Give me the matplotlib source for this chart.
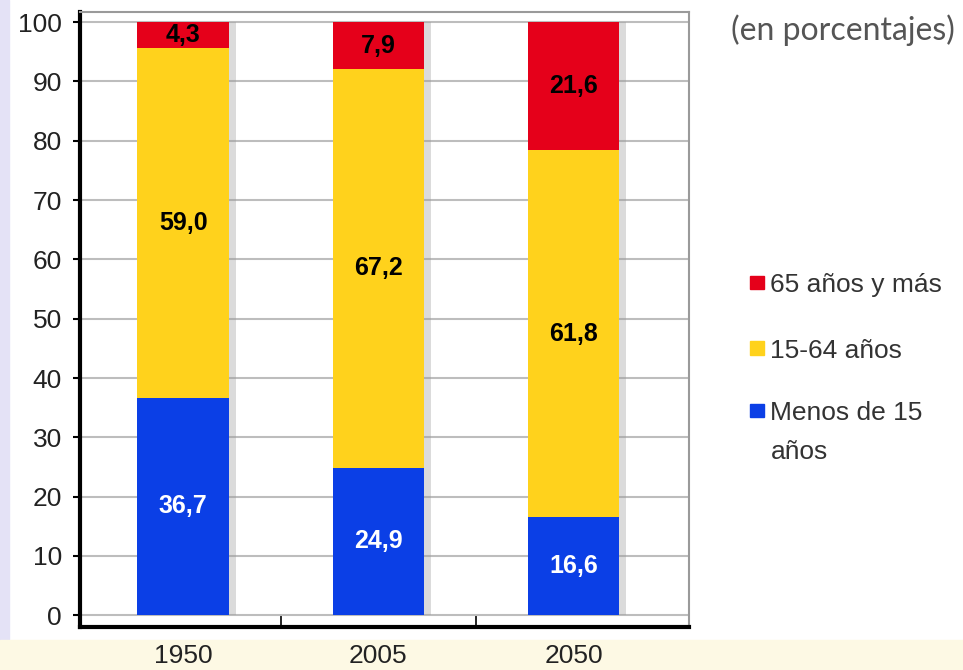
import matplotlib
matplotlib.use("Agg")
import matplotlib.pyplot as plt
from matplotlib.patches import Rectangle

years = ["1950", "2005", "2050"]
menos15 = [36.7, 24.9, 16.6]
de15a64 = [59.0, 67.2, 61.8]
mas65 = [4.3, 7.9, 21.6]
series_names = ["65 años y más", "15-64 años", "Menos de 15\naños"]

c_red = "#e5001a"
c_yel = "#ffd21c"
c_blu = "#0b3fe6"

plt.rcParams["font.family"] = ["Liberation Sans", "DejaVu Sans"]

fig = plt.figure(figsize=(9.63, 6.70), dpi=100)
fig.patch.set_facecolor("white")
# light frame of the original picture
fig.patches.append(Rectangle((0, 0), 0.009, 1, transform=fig.transFigure,
                             color="#e4e2f6", zorder=-10))
fig.patches.append(Rectangle((0, 0), 1, 0.045, transform=fig.transFigure,
                             color="#fdf9e4", zorder=-10))

ax = fig.add_axes([0.083, 0.064, 0.632, 0.918])
x = list(range(len(years)))
w = 0.47

bottom2 = [a + b for a, b in zip(menos15, de15a64)]
totals = [a + b for a, b in zip(bottom2, mas65)]

# soft shadow behind the bars
ax.bar([i + 0.035 for i in x], totals, w, color="#9a9a9a", alpha=0.35, zorder=1,
       linewidth=0)
ax.bar(x, menos15, w, color=c_blu, zorder=2, linewidth=0)
ax.bar(x, de15a64, w, bottom=menos15, color=c_yel, zorder=2, linewidth=0)
ax.bar(x, mas65, w, bottom=bottom2, color=c_red, zorder=2, linewidth=0)

def fmt(v):
    return f"{v:.1f}".replace(".", ",")

for i in x:
    ax.text(i, menos15[i] / 2, fmt(menos15[i]), ha="center", va="center",
            color="white", fontsize=18, fontweight="bold", zorder=3)
    ax.text(i, menos15[i] + de15a64[i] / 2, fmt(de15a64[i]), ha="center",
            va="center", color="black", fontsize=18, fontweight="bold", zorder=3)
    ax.text(i, bottom2[i] + mas65[i] / 2, fmt(mas65[i]), ha="center",
            va="center", color="black", fontsize=18, fontweight="bold", zorder=3)

ax.set_xlim(-0.53, 2.59)
ax.set_ylim(-2, 101.7)
ax.set_yticks(range(0, 101, 10))
ax.set_xticks(x)
ax.set_xticklabels(years)
ax.set_xticks([0.5, 1.5], minor=True)
ax.tick_params(axis="x", which="major", length=0, labelsize=19, pad=12,
               labelcolor="#222222")
ax.tick_params(axis="x", which="minor", direction="in", length=8, width=1.2)
ax.tick_params(axis="y", length=5, width=1.5, labelsize=19, pad=8,
               labelcolor="#222222")

ax.grid(axis="y", color="#bdbdbd", linewidth=1.5, zorder=0)
ax.set_axisbelow(True)

for s in ["left", "bottom"]:
    ax.spines[s].set_linewidth(3)
    ax.spines[s].set_color("black")
for s in ["top", "right"]:
    ax.spines[s].set_linewidth(1.5)
    ax.spines[s].set_color("#9a9a9a")

# legend, placed by hand to follow the original spacing
leg_colors = [c_red, c_yel, c_blu]
leg_y = [0.579, 0.481, 0.388]
for col, name, yy in zip(leg_colors, series_names, leg_y):
    fig.patches.append(Rectangle((0.779, yy - 0.011), 0.0145, 0.0205,
                                 transform=fig.transFigure, color=col))
    fig.text(0.800, yy + 0.013, name, ha="left", va="top", fontsize=19,
             color="#333333", linespacing=1.75)

fig.text(0.992, 0.955, "(en porcentajes)", ha="right", va="center",
         fontsize=23, family="Lato", color="#555555")

fig.savefig("out.png", dpi=100)
